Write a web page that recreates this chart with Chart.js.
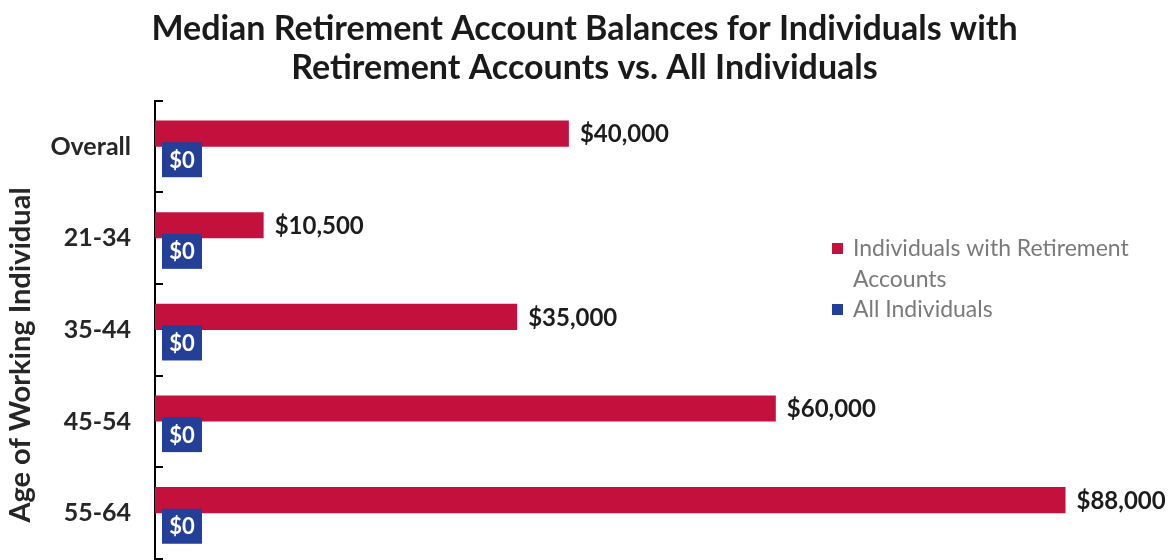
<!DOCTYPE html>
<html>
<head>
<meta charset="utf-8">
<script src="https://cdn.jsdelivr.net/npm/chart.js@4.4.0/dist/chart.umd.min.js"></script>
<style>
  html, body { margin: 0; padding: 0; background: #ffffff; }
  #wrap { width: 1171px; height: 560px; position: relative; }
</style>
</head>
<body>
<div id="wrap"><canvas id="c" width="1171" height="560"></canvas></div>
<script>
const titleLines = ["Median Retirement Account Balances for Individuals with", "Retirement Accounts vs. All Individuals"];
const categories = ["Overall", "21-34", "35-44", "45-54", "55-64"];
const withAccounts = [40000, 10500, 35000, 60000, 88000];
const allIndividuals = [0, 0, 0, 0, 0];
const seriesNames = ["Individuals with Retirement Accounts", "All Individuals"];
const legendLines = [["Individuals with Retirement", "Accounts"], ["All Individuals"]];
const yAxisTitle = "Age of Working Individual";
const xMax = 98000;

const RED = "#C4103D";
const BLUE = "#243F98";
const FONT = "Lato";

function money(v) {
  return "$" + v.toLocaleString("en-US");
}

const labelPlugin = {
  id: "labels",
  afterDatasetsDraw(chart) {
    const ctx = chart.ctx;
    ctx.save();
    const m0 = chart.getDatasetMeta(0);
    ctx.font = "bold 24px " + FONT;
    ctx.fillStyle = "#1c1c1c";
    ctx.textBaseline = "middle";
    ctx.textAlign = "left";
    m0.data.forEach((bar, i) => {
      ctx.fillText(money(withAccounts[i]), bar.x + 11, bar.y + 1);
    });
    const m1 = chart.getDatasetMeta(1);
    ctx.font = "bold 22px " + FONT;
    m1.data.forEach((bar, i) => {
      const txt = money(allIndividuals[i]);
      const w = 40, h = 35;
      const bx = bar.x + 7, by = bar.y - h / 2;
      ctx.fillStyle = BLUE;
      ctx.fillRect(bx, by, w, h);
      ctx.fillStyle = "#ffffff";
      ctx.textAlign = "center";
      ctx.fillText(txt, bx + w / 2, bar.y + 1);
    });
    ctx.restore();
  },
  afterDraw(chart) {
    const ctx = chart.ctx;
    const ys = chart.scales.y;
    const area = chart.chartArea;
    ctx.save();
    ctx.strokeStyle = "#000";
    ctx.lineWidth = 2;
    for (let i = 0; i <= categories.length; i++) {
      const y = Math.round(ys.getPixelForValue(i - 0.5));
      ctx.beginPath();
      ctx.moveTo(area.left, y);
      ctx.lineTo(area.left + 8, y);
      ctx.stroke();
    }
    ctx.translate(21, 355);
    ctx.rotate(-Math.PI / 2);
    ctx.font = "bold 29px " + FONT;
    ctx.fillStyle = "#262626";
    ctx.textAlign = "center";
    ctx.textBaseline = "middle";
    ctx.fillText(yAxisTitle, 0, 0);
    ctx.restore();
    ctx.save();
    ctx.font = "23px " + FONT;
    ctx.textBaseline = "middle";
    ctx.textAlign = "left";
    const lx = 832, ly0 = 249, lh = 30.5;
    const colors = [RED, BLUE];
    let row = 0;
    legendLines.forEach((lines, k) => {
      ctx.fillStyle = colors[k];
      ctx.fillRect(lx, ly0 + row * lh - 6, 11, 11);
      ctx.fillStyle = "#7a7a7a";
      lines.forEach((ln) => {
        ctx.fillText(ln, lx + 21, ly0 + row * lh);
        row++;
      });
    });
    ctx.restore();
  }
};

new Chart(document.getElementById("c"), {
  type: "bar",
  data: {
    labels: categories,
    datasets: [
      { label: seriesNames[0], data: withAccounts, backgroundColor: RED, borderWidth: 0,
        categoryPercentage: 0.57, barPercentage: 1.0 },
      { label: seriesNames[1], data: allIndividuals, backgroundColor: BLUE, borderWidth: 0,
        categoryPercentage: 0.57, barPercentage: 1.0 }
    ]
  },
  options: {
    indexAxis: "y",
    responsive: false,
    animation: false,
    layout: { padding: { left: 0, right: 2, top: 0, bottom: 1 } },
    plugins: {
      legend: { display: false },
      tooltip: { enabled: false },
      title: {
        display: true,
        text: titleLines,
        color: "#1a1a1a",
        font: { family: FONT, size: 34, weight: "bold", lineHeight: 1.13 },
        padding: { top: 10, bottom: 14 }
      }
    },
    scales: {
      x: {
        display: false,
        min: 0,
        max: xMax
      },
      y: {
        position: "left",
        grid: { display: false, drawTicks: false },
        border: { display: true, color: "#000", width: 2 },
        ticks: {
          color: "#262626",
          font: { family: FONT, size: 25, weight: "bold" },
          padding: 24
        },
        afterFit(s) { s.width = 155; s.paddingTop = 0; s.paddingBottom = 0; }
      }
    }
  },
  plugins: [labelPlugin]
});
</script>
</body>
</html>
